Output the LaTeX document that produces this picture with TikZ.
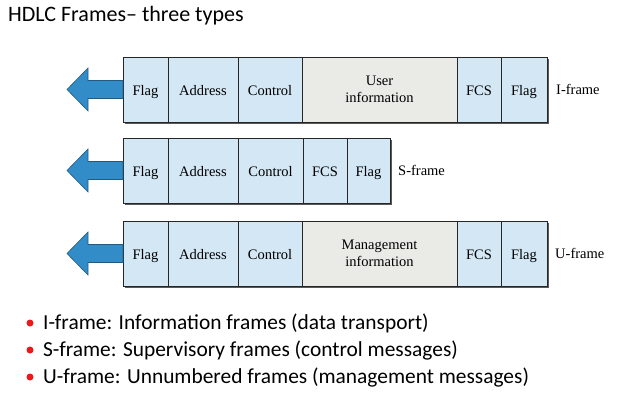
\documentclass[tikz,border=0pt]{standalone}
\usepackage{fontspec}
\setmainfont{Liberation Serif}
\newfontfamily\slidefont{Carlito}
\usetikzlibrary{positioning,calc,backgrounds}
\definecolor{cellblue}{RGB}{212,231,245}
\definecolor{cellgray}{RGB}{234,234,230}
\definecolor{arrowblue}{RGB}{50,140,200}
\definecolor{bulletred}{RGB}{235,25,25}
\tikzset{
  cellbase/.style={draw=black!85, line width=0.6pt, minimum height=65pt,
    inner sep=0pt, outer sep=0pt, font=\fontsize{14.5}{16.5}\selectfont},
  cell/.style={cellbase, fill=cellblue, text height=12.5pt, text depth=0pt},
  datacell/.style={cellbase, fill=cellgray, align=center},
  framelabel/.style={font=\fontsize{14.5}{16.5}\selectfont, inner sep=0pt},
  sendarrow/.style={fill=arrowblue, draw=arrowblue!65!black, line width=0.6pt},
  dropshadow/.style={fill=black!65},
  bullet/.style={circle, fill=bulletred, inner sep=0pt, minimum size=7pt},
  slidetext/.style={font=\slidefont\fontsize{21.4}{25}\selectfont, inner sep=0pt, anchor=base west}
}

\begin{document}
\begin{tikzpicture}[x=1pt,y=-1pt]
  \useasboundingbox (0,0) rectangle (637,412);

  % title
  \node[slidetext, font=\slidefont\fontsize{22}{26}\selectfont] (title) at (8,22) {HDLC Frames– three types};

  % I-frame
  \node[cell, minimum width=45pt, anchor=north west] (if1) at (123,57) {Flag};
  \node[cell, minimum width=70pt, right=0pt of if1] (if2) {Address};
  \node[cell, minimum width=64pt, right=0pt of if2] (if3) {Control};
  \node[datacell, minimum width=155pt, right=0pt of if3] (if4) {User\\information};
  \node[cell, minimum width=44pt, right=0pt of if4] (if5) {FCS};
  \node[cell, minimum width=46pt, right=0pt of if5] (if6) {Flag};
  \node[framelabel, right=9pt of if6] (ilabel) {I-frame};
  \draw[sendarrow] ($(if1.west)+(0,-9)$) -- ++(-35,0) -- ++(0,-12.5) -- ++(-21,21.5)
    -- ++(21,21.5) -- ++(0,-12.5) -- ++(35,0) -- cycle;

  % S-frame
  \node[cell, minimum width=45pt, anchor=north west] (sf1) at (123,138) {Flag};
  \node[cell, minimum width=70pt, right=0pt of sf1] (sf2) {Address};
  \node[cell, minimum width=65pt, right=0pt of sf2] (sf3) {Control};
  \node[cell, minimum width=44pt, right=0pt of sf3] (sf4) {FCS};
  \node[cell, minimum width=43pt, right=0pt of sf4] (sf5) {Flag};
  \node[framelabel, right=8pt of sf5] (slabel) {S-frame};
  \draw[sendarrow] ($(sf1.west)+(0,-9)$) -- ++(-35,0) -- ++(0,-12.5) -- ++(-21,21.5)
    -- ++(21,21.5) -- ++(0,-12.5) -- ++(35,0) -- cycle;

  % U-frame
  \node[cell, minimum width=45pt, anchor=north west] (uf1) at (123,221) {Flag};
  \node[cell, minimum width=70pt, right=0pt of uf1] (uf2) {Address};
  \node[cell, minimum width=64pt, right=0pt of uf2] (uf3) {Control};
  \node[datacell, minimum width=155pt, right=0pt of uf3] (uf4) {Management\\information};
  \node[cell, minimum width=44pt, right=0pt of uf4] (uf5) {FCS};
  \node[cell, minimum width=46pt, right=0pt of uf5] (uf6) {Flag};
  \node[framelabel, right=8pt of uf6] (ulabel) {U-frame};
  \draw[sendarrow] ($(uf1.west)+(0,-9)$) -- ++(-35,0) -- ++(0,-12.5) -- ++(-21,21.5)
    -- ++(21,21.5) -- ++(0,-12.5) -- ++(35,0) -- cycle;

  % shadows under the frames
  \begin{scope}[on background layer]
    \fill[dropshadow] ($(if1.north west)+(2,2)$) rectangle ($(if6.south east)+(2,2)$);
    \fill[dropshadow] ($(sf1.north west)+(2,2)$) rectangle ($(sf5.south east)+(2,2)$);
    \fill[dropshadow] ($(uf1.north west)+(2,2)$) rectangle ($(uf6.south east)+(2,2)$);
  \end{scope}

  % bullet list
  \node[bullet] (b1) at (30,323) {};
  \node[bullet] (b2) at (30,350) {};
  \node[bullet] (b3) at (30,377) {};
  \node[slidetext] (t1) at (43,329) {I-frame: Information frames (data transport)};
  \node[slidetext] (t2) at (43,356) {S-frame: Supervisory frames (control messages)};
  \node[slidetext] (t3) at (43,383) {U-frame: Unnumbered frames (management messages)};
\end{tikzpicture}
\end{document}
